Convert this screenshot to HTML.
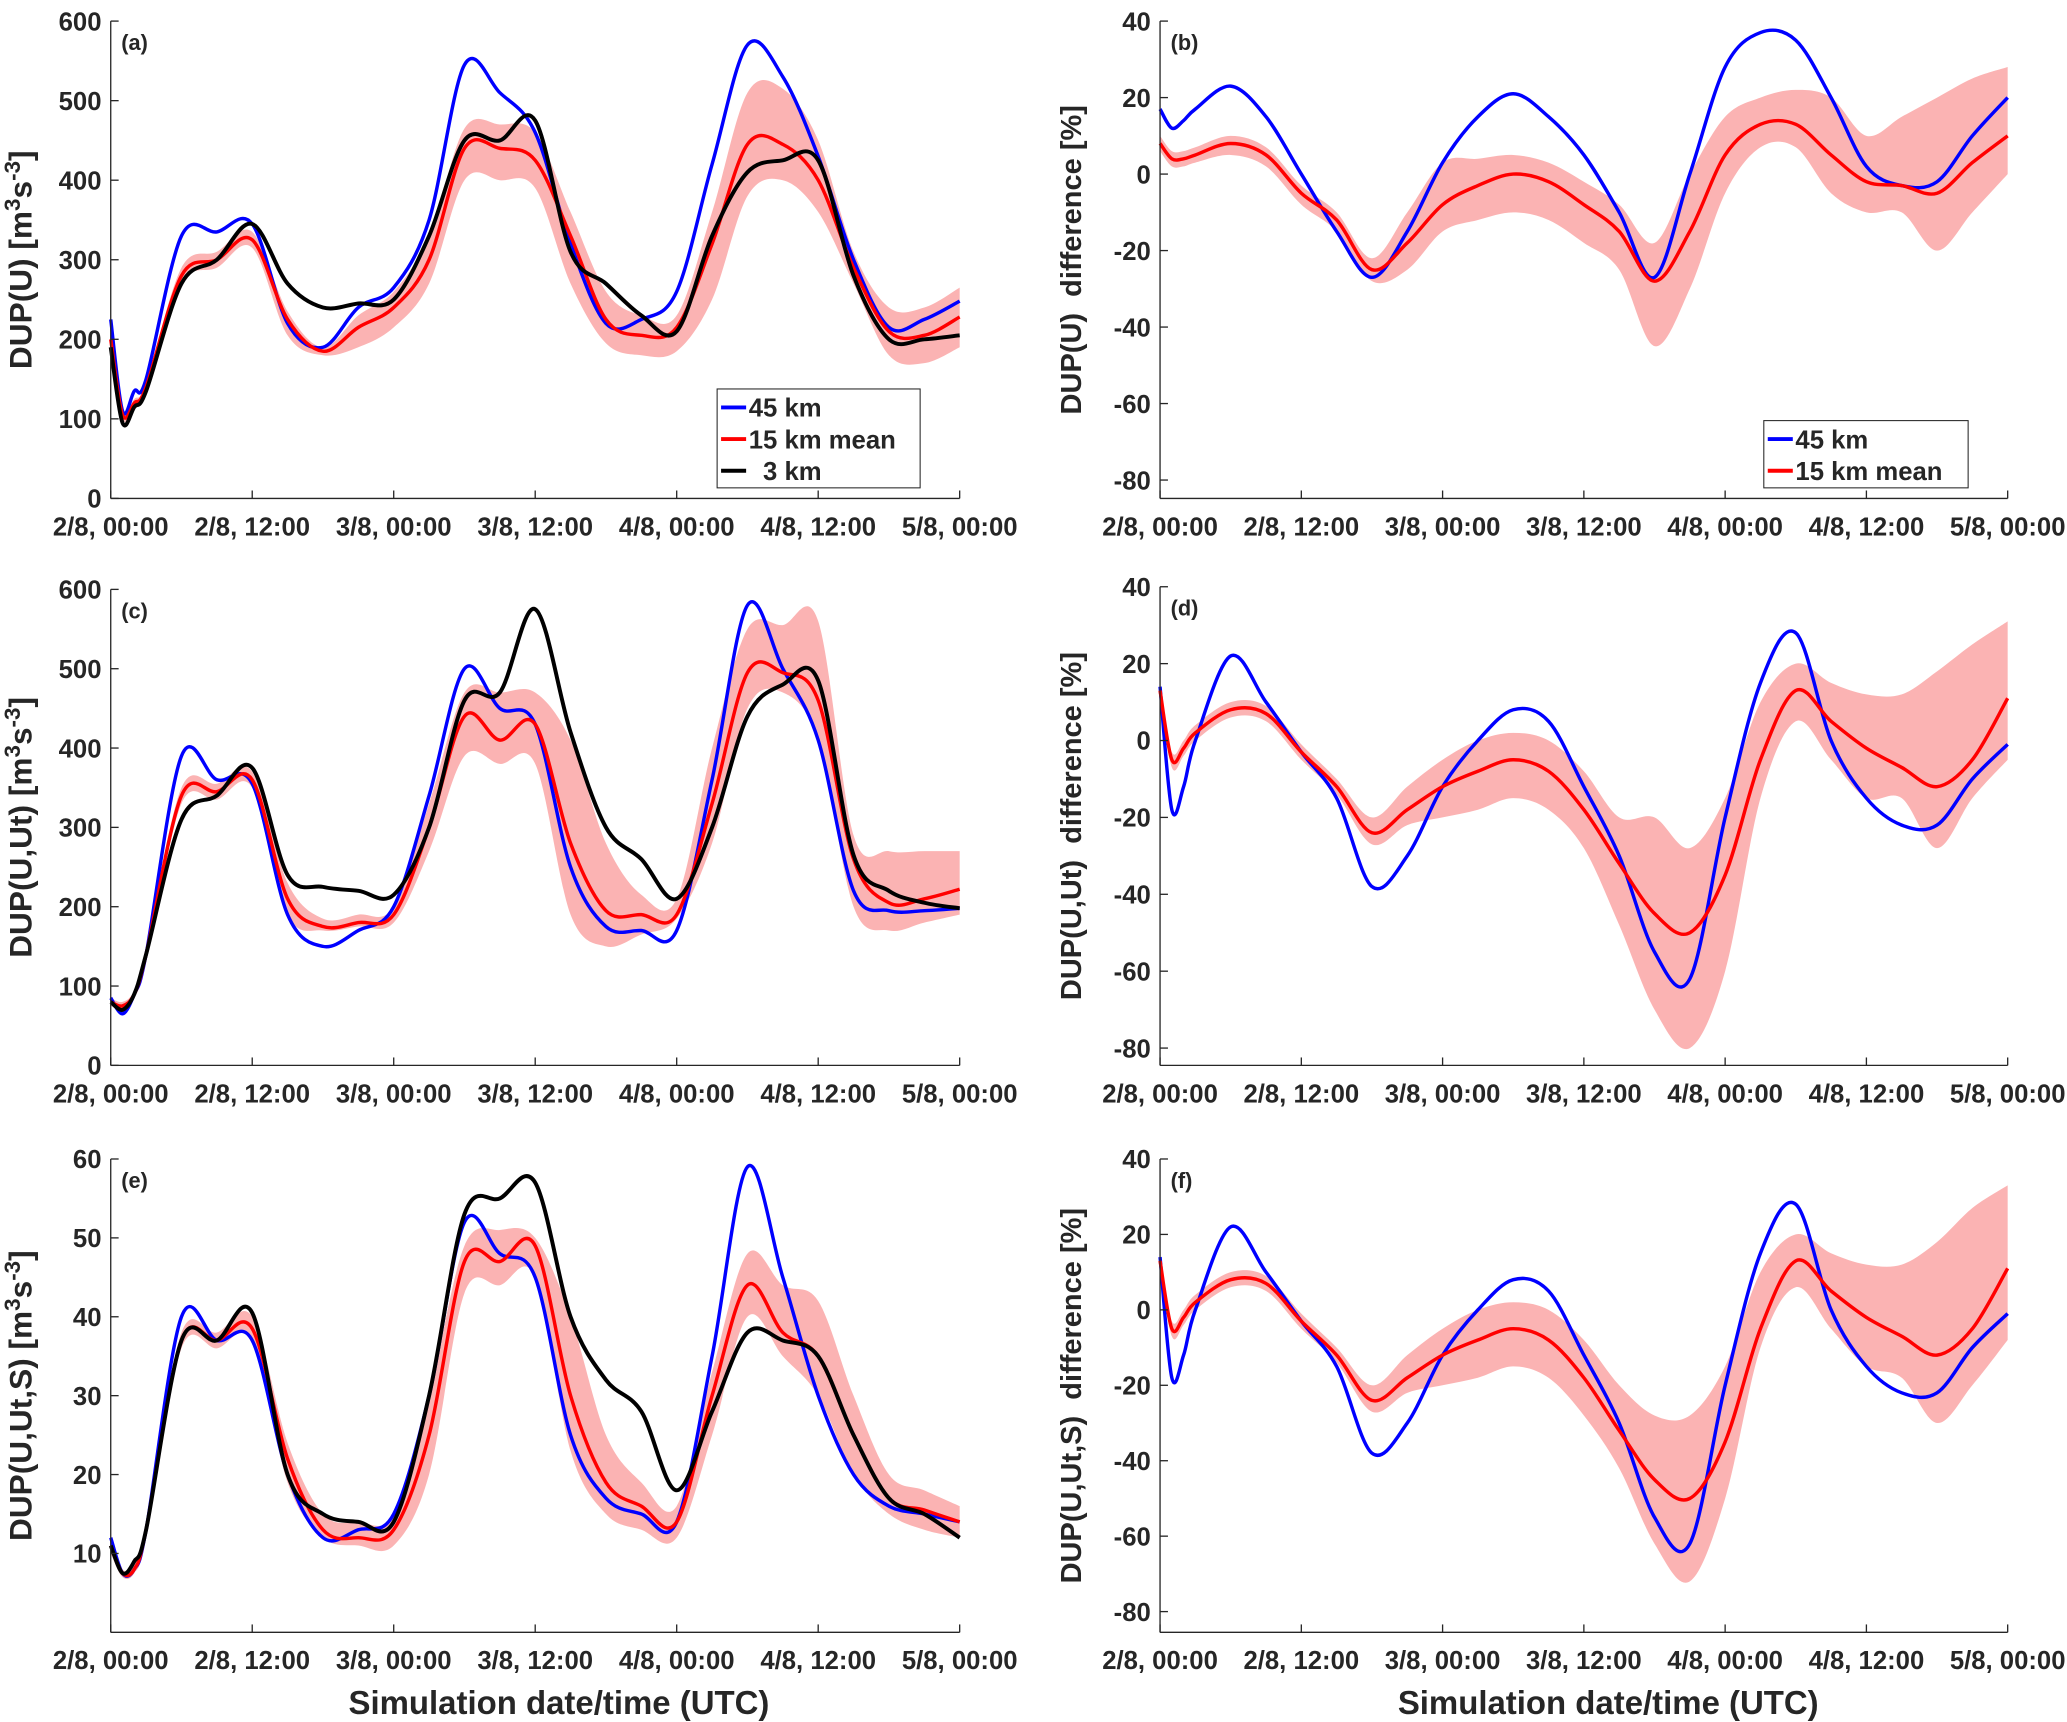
<!DOCTYPE html>
<html><head><meta charset="utf-8"><style>
html,body{margin:0;padding:0;background:#fff;}
svg{display:block;}
text{font-family:"Liberation Sans",sans-serif;font-weight:bold;fill:#262626;}
</style></head><body>
<svg id="fig" width="2067" height="1722" viewBox="0 0 1568 1306" preserveAspectRatio="none" xmlns="http://www.w3.org/2000/svg"></svg>
<script>
const hours=[0,1,2,3,6,9,12,15,18,21,24,27,30,33,36,39,42,45,48,51,54,57,60,63,66,69,72];
const xTickLabels=["2/8, 00:00","2/8, 12:00","3/8, 00:00","3/8, 12:00","4/8, 00:00","4/8, 12:00","5/8, 00:00"];
const xTickHours=[0,12,24,36,48,60,72];
// panel a
const aBlue=[225,110,135,150,330,335,345,220,190,240,265,350,545,510,460,320,220,225,260,420,570,530,430,300,215,225,248];
const aRed=[200,105,120,140,280,300,325,225,185,215,240,300,440,440,425,330,225,205,215,320,445,445,400,290,210,205,228];
const aLow=[195,100,115,135,270,290,315,205,180,190,215,270,400,400,390,270,195,180,185,250,380,400,360,270,180,170,190];
const aHigh=[205,110,125,145,290,310,335,235,190,230,260,330,465,470,460,360,260,230,230,360,510,515,450,310,240,240,265];
const aBlack=[190,95,115,135,270,300,345,270,240,245,250,330,450,450,475,310,270,230,210,330,410,425,425,280,200,200,205];
// panel b
const bBlue=[17,12,14,17,23,15,0,-15,-27,-15,3,15,21,15,5,-10,-27,0,28,37,35,20,2,-3,-2,10,20];
const bRed=[8,4,4,5,8,5,-5,-12,-25,-18,-8,-3,0,-2,-8,-15,-28,-15,5,13,13,5,-2,-3,-5,3,10];
const bLow=[6,2,2,3,5,2,-8,-15,-28,-25,-15,-12,-10,-12,-18,-25,-45,-30,-5,7,7,-5,-10,-10,-20,-10,0];
const bHigh=[10,6,6,7,10,7,-3,-10,-22,-10,3,4,5,3,-2,-8,-18,0,15,20,22,20,10,15,20,25,28];
// panel c
const cBlue=[85,65,90,140,390,360,355,190,150,170,200,340,500,450,430,250,175,170,170,360,580,500,410,220,195,195,198];
const cRed=[80,75,90,140,340,345,360,210,175,180,190,300,440,410,430,280,195,190,190,330,495,495,460,260,205,210,222];
const cLow=[75,70,85,130,330,335,350,190,170,175,180,270,390,380,380,190,150,165,185,280,450,470,410,200,170,180,190];
const cHigh=[85,80,95,150,350,355,370,230,185,190,200,330,470,470,470,410,280,215,210,400,550,555,560,290,270,270,270];
const cBlack=[80,70,90,140,310,340,375,240,225,220,215,300,460,470,575,420,300,260,210,300,440,480,485,265,220,205,198];
// panel d
const dBlue=[14,-18,-12,0,22,10,-3,-15,-38,-30,-12,0,8,5,-12,-30,-55,-62,-20,15,28,0,-15,-22,-22,-10,-1];
const dRed=[13,-5,-2,2,8,7,-3,-12,-24,-18,-12,-8,-5,-8,-18,-32,-45,-50,-35,-5,13,5,-2,-7,-12,-5,11];
const dLow=[12,-7,-4,0,6,5,-5,-14,-27,-22,-20,-18,-15,-18,-28,-48,-70,-80,-60,-15,5,-5,-15,-15,-28,-15,-5];
const dHigh=[14,-3,0,4,10,9,-1,-10,-20,-12,-5,0,2,0,-8,-20,-20,-28,-15,10,20,15,12,12,18,25,31];
// panel e
const eBlue=[12,7.5,8,13,40,37,37,20,12,13,15,30,52,48,45,25,17,15,14,35,59,45,30,20,16,15,14];
const eRed=[11,7.5,8,13,37,37,38.5,22,13,12,13,25,47,47,49,30,19,16,14,30,44,38,35,25,17,15.5,14];
const eLow=[10,7,7.5,12,36,36,37,19,12,11,11,20,43,44,45,23,15,13,12,25,40,35,30,20,15,13,12];
const eHigh=[12,8,8.5,14,38,38,40,24,15,14,15,30,49,51,50,40,25,19,16,33,48,44,42,30,20,18,16];
const eBlack=[11,7.5,9,13,37,37,40.5,20,15,14,14,30,53,55,57,40,32,28,18,28,38,37,35,25,17,15,12];
// panel f
const fBlue=[14,-18,-12,0,22,10,-3,-15,-38,-30,-12,0,8,5,-12,-30,-55,-62,-20,15,28,0,-15,-22,-22,-10,-1];
const fRed=[13,-5,-2,2,8,7,-3,-12,-24,-18,-12,-8,-5,-8,-18,-32,-45,-50,-35,-5,13,5,-2,-7,-12,-5,11];
const fLow=[12,-7,-4,0,6,5,-5,-14,-27,-22,-20,-18,-15,-18,-28,-42,-62,-72,-50,-10,6,-5,-15,-18,-30,-20,-8];
const fHigh=[14,-3,0,4,10,9,-1,-10,-20,-12,-5,0,2,0,-8,-20,-28,-28,-15,10,20,15,12,12,18,27,33];

const NS="http://www.w3.org/2000/svg";
const svg=document.getElementById('fig');
function mk(tag,attrs,parent){const e=document.createElementNS(NS,tag);for(const k in attrs)e.setAttribute(k,attrs[k]);(parent||svg).appendChild(e);return e;}
function smooth(pts){let d="M"+pts[0][0]+","+pts[0][1];for(let i=0;i<pts.length-1;i++){const p0=pts[Math.max(0,i-1)],p1=pts[i],p2=pts[i+1],p3=pts[Math.min(pts.length-1,i+2)];const c1=[p1[0]+(p2[0]-p0[0])/6,p1[1]+(p2[1]-p0[1])/6],c2=[p2[0]-(p3[0]-p1[0])/6,p2[1]-(p3[1]-p1[1])/6];d+=" C"+c1[0].toFixed(2)+","+c1[1].toFixed(2)+" "+c2[0].toFixed(2)+","+c2[1].toFixed(2)+" "+p2[0].toFixed(2)+","+p2[1].toFixed(2);}return d;}

function panel(cfg){
  const g=mk('g',{});
  
  
  const X=h=>cfg.x0+(cfg.x1-cfg.x0)*h/72;
  const Y=v=>cfg.yb-(cfg.yb-cfg.yt)*(v-cfg.ymin)/(cfg.ymax-cfg.ymin);
  const up=hours.map((h,i)=>[X(h),Y(cfg.high[i])]);
  const lo=hours.map((h,i)=>[X(h),Y(cfg.low[i])]).reverse();
  let d=smooth(up);const dl=smooth(lo);d+=" L"+dl.slice(1)+" Z";
  const band=mk('path',{d:d,fill:'#fbb3b3',stroke:'none'},g);
  
  
  const series=[[cfg.blue,'#0000ff','line-45km'],[cfg.red,'#ff0000','line-15km-mean']];
  if(cfg.black)series.push([cfg.black,'#000000','line-3km']);
  series.forEach(s=>{const p=mk('path',{d:smooth(hours.map((h,i)=>[X(h),Y(s[0][i])])),fill:'none',stroke:s[1],'stroke-width':s[1]=='#000000'?3:2.6,'stroke-linejoin':'round'},g);
    
    });
  mk('line',{x1:cfg.x0,y1:cfg.yt,x2:cfg.x0,y2:cfg.yb,stroke:'#262626','stroke-width':1},g);
  mk('line',{x1:cfg.x0,y1:cfg.yb,x2:cfg.x1,y2:cfg.yb,stroke:'#262626','stroke-width':1},g);
  xTickHours.forEach((h,i)=>{mk('line',{x1:X(h),y1:cfg.yb,x2:X(h),y2:cfg.yb-6,stroke:'#262626'},g);
    const t=mk('text',{x:X(h),y:cfg.yb+28,'text-anchor':'middle','font-size':19.5},g);t.textContent=xTickLabels[i];
    
    });
  cfg.yticks.forEach(v=>{mk('line',{x1:cfg.x0,y1:Y(v),x2:cfg.x0+6,y2:Y(v),stroke:'#262626'},g);
    const t=mk('text',{x:cfg.x0-7,y:Y(v)+7,'text-anchor':'end','font-size':19.5},g);t.textContent=v;
    
    });
  const lab=mk('text',{x:cfg.x0+8,y:cfg.yt+22,'font-size':16.5},g);lab.textContent='('+cfg.id+')';
  
  
  const yl=mk('text',{transform:'translate('+(cfg.x0-60)+','+((cfg.yt+cfg.yb)/2)+') rotate(-90)','text-anchor':'middle','font-size':cfg.ysize},g);
  yl.innerHTML=cfg.ylabel;
  
  
  if(cfg.legend){const L=cfg.legend;const lg=mk('g',{},g);
    
    
    mk('rect',{x:L.x,y:L.y,width:L.w,height:L.h,fill:'#fff',stroke:'#262626','stroke-width':0.8},lg);
    L.items.forEach((it,i)=>{const yy=L.y+14+i*24;mk('line',{x1:L.x+3,y1:yy,x2:L.x+22,y2:yy,stroke:it[1],'stroke-width':3},lg);
      const t=mk('text',{x:L.x+24,y:yy+7,'font-size':19.5},lg);t.textContent=it[0];
      
      });}
}
const uUnit='[m<tspan dy="-9" font-size="17">3</tspan><tspan dy="9">s</tspan><tspan dy="-9" font-size="17">-3</tspan><tspan dy="9">]</tspan>';
panel({id:'a',x0:84,x1:728,yt:16,yb:378,ymin:0,ymax:600,yticks:[0,100,200,300,400,500,600],blue:aBlue,red:aRed,low:aLow,high:aHigh,black:aBlack,ysize:24,ylabel:'DUP(U) '+uUnit,
  legend:{x:544,y:295,w:154,h:75,items:[['45 km','#0000ff'],['15 km mean','#ff0000'],['\u00a0\u00a03 km','#000000']]}});
panel({id:'b',x0:880,x1:1523,yt:16,yb:378,ymin:-84.8,ymax:40,yticks:[-80,-60,-40,-20,0,20,40],blue:bBlue,red:bRed,low:bLow,high:bHigh,ysize:22,ylabel:'DUP(U)\u00a0 difference [%]',
  legend:{x:1338,y:319,w:155,h:51,items:[['45 km','#0000ff'],['15 km mean','#ff0000']]}});
panel({id:'c',x0:84,x1:728,yt:447,yb:808,ymin:0,ymax:600,yticks:[0,100,200,300,400,500,600],blue:cBlue,red:cRed,low:cLow,high:cHigh,black:cBlack,ysize:24,ylabel:'DUP(U,Ut) '+uUnit});
panel({id:'d',x0:880,x1:1523,yt:445,yb:808,ymin:-84.5,ymax:40,yticks:[-80,-60,-40,-20,0,20,40],blue:dBlue,red:dRed,low:dLow,high:dHigh,ysize:22,ylabel:'DUP(U,Ut)\u00a0 difference [%]'});
panel({id:'e',x0:84,x1:728,yt:879,yb:1238,ymin:0,ymax:60,yticks:[10,20,30,40,50,60],blue:eBlue,red:eRed,low:eLow,high:eHigh,black:eBlack,ysize:24,ylabel:'DUP(U,Ut,S) '+uUnit});
panel({id:'f',x0:880,x1:1523,yt:879,yb:1238,ymin:-85.5,ymax:40,yticks:[-80,-60,-40,-20,0,20,40],blue:fBlue,red:fRed,low:fLow,high:fHigh,ysize:22,ylabel:'DUP(U,Ut,S)\u00a0 difference [%]'});
[[406,'x-axis-title-left'],[1202,'x-axis-title-right']].forEach(a=>{const t=mk('text',{x:a[0]+18,y:1300,'text-anchor':'middle','font-size':25});t.textContent='Simulation date/time (UTC)';
  
  });
</script>
</body></html>
